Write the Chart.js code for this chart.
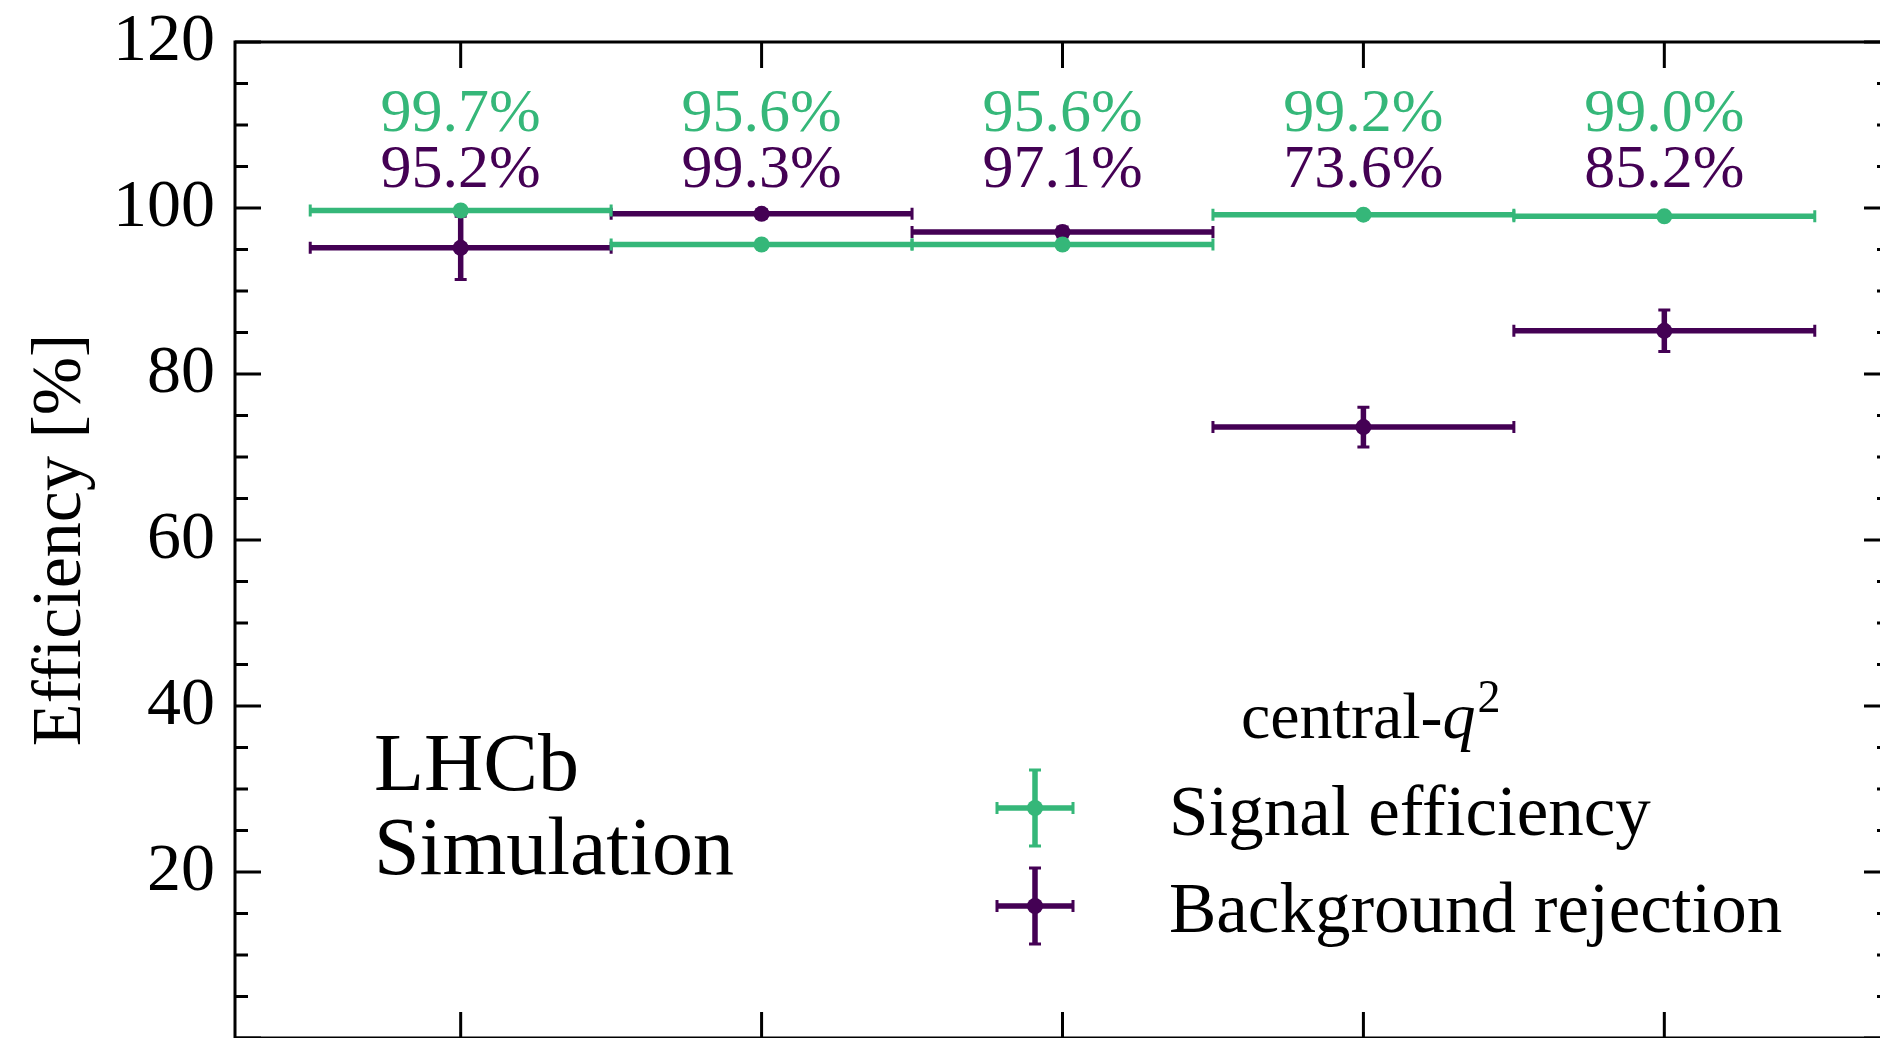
<!DOCTYPE html>
<html>
<head>
<meta charset="utf-8">
<script src="https://cdn.jsdelivr.net/npm/chart.js@4.4.0/dist/chart.umd.min.js"></script>
<style>
  html, body { margin: 0; padding: 0; overflow: hidden; background: #ffffff; }
  #wrap { width: 1900px; height: 1046px; }
</style>
</head>
<body>
<div id="wrap"><canvas id="effChart" width="1900" height="1046"></canvas></div>
<script>
// q2 bins (one point per bin, bin width 1)
const bins = [0, 1, 2, 3, 4];
const signalEff = [99.7, 95.6, 95.6, 99.2, 99.0];
const signalErr = [0.3, 0.4, 0.4, 0.3, 0.3];
const bkgRej = [95.2, 99.3, 97.1, 73.6, 85.2];
const bkgErr = [3.8, 0.5, 0.6, 2.4, 2.5];
const yTickValues = [20, 40, 60, 80, 100, 120];

const GREEN = "#35b779";
const PURPLE = "#440154";
const FONT = "'Liberation Serif', 'DejaVu Serif', serif";
const BIN_HALF = 0.5;
const MINOR_STEP = 5;
const BAR_WIDTH = 5.5;

// Error bars (x = bin width, y = uncertainty), drawn under each dataset's markers
const errorBarPlugin = {
  id: "errorBars",
  beforeDatasetDraw(chart, args) {
    const ds = chart.data.datasets[args.index];
    const xs = chart.scales.x;
    const ys = chart.scales.y;
    const ctx = chart.ctx;
    ctx.save();
    ctx.strokeStyle = ds.borderColor;
    ds.data.forEach((p, i) => {
      const x = xs.getPixelForValue(p.x);
      const y = ys.getPixelForValue(p.y);
      const xl = xs.getPixelForValue(p.x - BIN_HALF);
      const xr = xs.getPixelForValue(p.x + BIN_HALF);
      const yt = ys.getPixelForValue(p.y + ds.errors[i]);
      const yb = ys.getPixelForValue(p.y - ds.errors[i]);
      ctx.lineWidth = BAR_WIDTH;
      ctx.beginPath();
      ctx.moveTo(xl, y); ctx.lineTo(xr, y);
      ctx.moveTo(x, yt); ctx.lineTo(x, yb);
      ctx.stroke();
      ctx.lineWidth = 3;
      ctx.beginPath();
      ctx.moveTo(xl, y - 6); ctx.lineTo(xl, y + 6);
      ctx.moveTo(xr, y - 6); ctx.lineTo(xr, y + 6);
      ctx.moveTo(x - 6, yt); ctx.lineTo(x + 6, yt);
      ctx.moveTo(x - 6, yb); ctx.lineTo(x + 6, yb);
      ctx.stroke();
    });
    ctx.restore();
  },
};

// Frame with inward ticks on all four sides
const framePlugin = {
  id: "frame",
  afterDraw(chart) {
    const { ctx, chartArea: a } = chart;
    const xs = chart.scales.x;
    const ys = chart.scales.y;
    ctx.save();
    ctx.strokeStyle = "#000";
    ctx.lineWidth = 3;
    ctx.strokeRect(a.left, a.top, a.right - a.left, a.bottom - a.top);
    ctx.beginPath();
    for (let v = ys.min; v <= ys.max; v += MINOR_STEP) {
      const y = ys.getPixelForValue(v);
      const len = v % 20 === 0 ? 26 : 13;
      ctx.moveTo(a.left, y); ctx.lineTo(a.left + len, y);
      ctx.moveTo(a.right, y); ctx.lineTo(a.right - len, y);
    }
    bins.forEach((b) => {
      const x = xs.getPixelForValue(b);
      ctx.moveTo(x, a.top); ctx.lineTo(x, a.top + 26);
      ctx.moveTo(x, a.bottom); ctx.lineTo(x, a.bottom - 26);
    });
    ctx.stroke();
    ctx.restore();
  },
};

// Value labels, experiment tag and legend
const annotatePlugin = {
  id: "annotate",
  afterDraw(chart) {
    const ctx = chart.ctx;
    const xs = chart.scales.x;
    const ys = chart.scales.y;
    ctx.save();
    ctx.textAlign = "center";
    ctx.textBaseline = "alphabetic";
    ctx.font = "62px " + FONT;
    bins.forEach((b, i) => {
      const x = xs.getPixelForValue(b);
      ctx.fillStyle = GREEN;
      ctx.fillText(signalEff[i].toFixed(1) + "%", x, ys.getPixelForValue(109.3));
      ctx.fillStyle = PURPLE;
      ctx.fillText(bkgRej[i].toFixed(1) + "%", x, ys.getPixelForValue(102.5));
    });

    ctx.textAlign = "left";
    ctx.fillStyle = "#000";
    ctx.font = "82px " + FONT;
    ctx.fillText("LHCb", 374, 790);
    ctx.fillText("Simulation", 374, 874);

    // legend title: central-q^2
    let tx = 1241;
    ctx.font = "66px " + FONT;
    ctx.fillText("central-", tx, 738);
    tx += ctx.measureText("central-").width;
    ctx.font = "italic 66px " + FONT;
    ctx.fillText("q", tx, 738);
    tx += ctx.measureText("q").width + 2;
    ctx.font = "46px " + FONT;
    ctx.fillText("2", tx, 712);

    const rows = [
      { ds: chart.data.datasets[0], y: 808, base: 835 },
      { ds: chart.data.datasets[1], y: 906, base: 932 },
    ];
    rows.forEach((r) => {
      const cx = 1035;
      const arm = 38;
      ctx.strokeStyle = r.ds.borderColor;
      ctx.fillStyle = r.ds.borderColor;
      ctx.lineWidth = BAR_WIDTH;
      ctx.beginPath();
      ctx.moveTo(cx - arm, r.y); ctx.lineTo(cx + arm, r.y);
      ctx.moveTo(cx, r.y - arm); ctx.lineTo(cx, r.y + arm);
      ctx.stroke();
      ctx.lineWidth = 3;
      ctx.beginPath();
      ctx.moveTo(cx - arm, r.y - 6); ctx.lineTo(cx - arm, r.y + 6);
      ctx.moveTo(cx + arm, r.y - 6); ctx.lineTo(cx + arm, r.y + 6);
      ctx.moveTo(cx - 6, r.y - arm); ctx.lineTo(cx + 6, r.y - arm);
      ctx.moveTo(cx - 6, r.y + arm); ctx.lineTo(cx + 6, r.y + arm);
      ctx.stroke();
      ctx.beginPath();
      ctx.arc(cx, r.y, 8, 0, Math.PI * 2);
      ctx.fill();
      ctx.fillStyle = "#000";
      ctx.font = "71px " + FONT;
      ctx.fillText(r.ds.label, 1169, r.base);
    });
    ctx.restore();
  },
};

const ctx = document.getElementById("effChart");

new Chart(ctx, {
  type: "scatter",
  data: {
    datasets: [
      {
        label: "Signal efficiency",
        data: bins.map((b, i) => ({ x: b, y: signalEff[i] })),
        errors: signalErr,
        backgroundColor: GREEN,
        borderColor: GREEN,
        pointRadius: 8,
        pointBorderWidth: 0,
      },
      {
        label: "Background rejection",
        data: bins.map((b, i) => ({ x: b, y: bkgRej[i] })),
        errors: bkgErr,
        backgroundColor: PURPLE,
        borderColor: PURPLE,
        pointRadius: 8,
        pointBorderWidth: 0,
      },
    ],
  },
  options: {
    responsive: false,
    animation: false,
    layout: { padding: { top: 42, bottom: 3, right: 10, left: 0 } },
    plugins: {
      legend: { display: false },
      tooltip: { enabled: false },
    },
    scales: {
      x: {
        type: "linear",
        min: -0.75,
        max: 4.75,
        display: false,
      },
      y: {
        min: 0,
        max: 120,
        afterBuildTicks: (s) => {
          s.ticks = yTickValues.map((v) => ({ value: v }));
        },
        afterFit: (s) => {
          s.width = 235;
          s.paddingTop = 0;
          s.paddingBottom = 0;
        },
        ticks: {
          padding: 20,
          color: "#000",
          font: { family: FONT, size: 68, lineHeight: 1 },
        },
        grid: { display: false, drawTicks: false },
        border: { display: false },
        title: {
          display: true,
          text: "Efficiency [%]",
          color: "#000",
          font: { family: FONT, size: 70 },
          padding: { top: 20 },
        },
      },
    },
  },
  plugins: [errorBarPlugin, framePlugin, annotatePlugin],
});
</script>
</body>
</html>
